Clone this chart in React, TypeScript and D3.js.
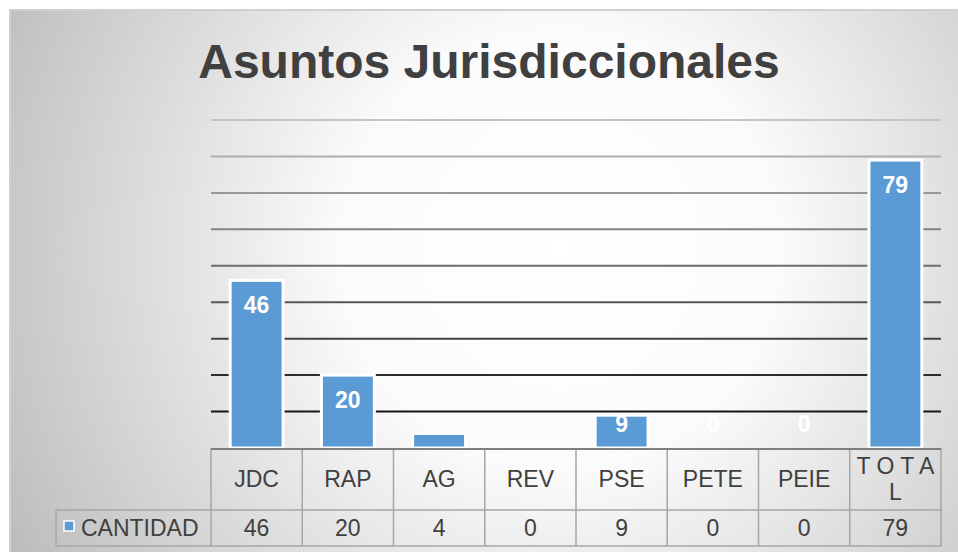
import React, { useEffect, useRef } from 'react';
import * as d3 from 'd3';

const title = 'Asuntos Jurisdiccionales';
const categories = ['JDC', 'RAP', 'AG', 'REV', 'PSE', 'PETE', 'PEIE', 'TOTAL'];
const headerLines = [['JDC'], ['RAP'], ['AG'], ['REV'], ['PSE'], ['PETE'], ['PEIE'], ['T O T A', 'L']];
const seriesName = 'CANTIDAD';
const cantidad = [46, 20, 4, 0, 9, 0, 0, 79];
// labels that show on the chart (AG and REV have none)
const showLabel = [true, true, false, false, true, true, true, true];
const yTicks = [10, 20, 30, 40, 50, 60, 70, 80, 90];

function App() {
  const svgRef = useRef<SVGSVGElement>(null);

  useEffect(() => {
    const svg = d3.select(svgRef.current);
    svg.selectAll('*').remove();

    const width = 958;
    const height = 552;
    const plot = { left: 211, right: 941, top: 120, bottom: 448 };
    const tableBottom = 546;
    const headerBottom = 510;
    const legendLeft = 56;
    const font = '"Liberation Sans", Arial, sans-serif';
    const textColor = '#404040';
    const blue = '#5b9bd5';

    svg.attr('width', width).attr('height', height);

    const defs = svg.append('defs');
    const grad = defs.append('radialGradient')
      .attr('id', 'bg')
      .attr('gradientUnits', 'userSpaceOnUse')
      .attr('cx', 560).attr('cy', 250).attr('r', 620);
    grad.append('stop').attr('offset', '0%').attr('stop-color', '#ffffff');
    grad.append('stop').attr('offset', '35%').attr('stop-color', '#fbfbfb');
    grad.append('stop').attr('offset', '100%').attr('stop-color', '#bdbdbd');

    svg.append('rect').attr('width', width).attr('height', height).attr('fill', '#fff');
    svg.append('rect')
      .attr('x', 10).attr('y', 10)
      .attr('width', width).attr('height', height)
      .attr('fill', 'url(#bg)')
      .attr('stroke', '#d0d0d0').attr('stroke-width', 2);

    svg.append('text')
      .attr('x', 489).attr('y', 78)
      .attr('text-anchor', 'middle')
      .attr('font-family', font).attr('font-weight', 'bold')
      .attr('font-size', 48).attr('fill', textColor)
      .text(title);

    const x = d3.scaleBand()
      .domain(categories)
      .range([plot.left, plot.right])
      .paddingInner(0.42)
      .paddingOuter(0.21);

    const y = d3.scaleLinear()
      .domain([0, 90])
      .range([plot.bottom, plot.top]);

    const lineColor = d3.scaleLinear<string>()
      .domain([0, 90])
      .range(['#000000', '#c4c4c4'])
      .interpolate(d3.interpolateRgb);

    svg.append('g')
      .selectAll('line')
      .data(yTicks)
      .enter()
      .append('line')
      .attr('x1', plot.left).attr('x2', plot.right)
      .attr('y1', (d) => y(d)).attr('y2', (d) => y(d))
      .attr('stroke', (d) => lineColor(d))
      .attr('stroke-width', 2);

    svg.append('g')
      .selectAll('rect')
      .data(cantidad)
      .enter()
      .append('rect')
      .attr('x', (d, i) => x(categories[i]))
      .attr('width', x.bandwidth())
      .attr('y', (d) => y(d))
      .attr('height', (d) => plot.bottom - y(d))
      .attr('fill', blue)
      .attr('stroke', (d) => (d > 0 ? '#ffffff' : 'none'))
      .attr('stroke-width', 3);

    svg.append('g')
      .selectAll('text')
      .data(cantidad.map((v, i) => ({ v, i })).filter((d) => showLabel[d.i]))
      .enter()
      .append('text')
      .attr('x', (d) => x(categories[d.i]) + x.bandwidth() / 2)
      .attr('y', (d) => Math.min(y(d.v) + 25, plot.bottom - 24) + 8)
      .attr('text-anchor', 'middle')
      .attr('font-family', font).attr('font-weight', 'bold')
      .attr('font-size', 23).attr('fill', '#ffffff')
      .text((d) => d.v);

    // data table
    const step = x.step();
    const table = svg.append('g')
      .attr('fill', 'none')
      .attr('stroke', '#a6a6a6')
      .attr('stroke-width', 1.5);

    table.append('line')
      .attr('x1', plot.left).attr('x2', plot.left)
      .attr('y1', plot.bottom).attr('y2', tableBottom);
    categories.forEach((c, i) => {
      const xr = plot.left + step * (i + 1);
      table.append('line')
        .attr('x1', xr).attr('x2', xr)
        .attr('y1', plot.bottom).attr('y2', tableBottom);
    });
    table.append('line')
      .attr('x1', legendLeft).attr('x2', plot.right)
      .attr('y1', headerBottom).attr('y2', headerBottom);
    table.append('line')
      .attr('x1', legendLeft).attr('x2', plot.right)
      .attr('y1', tableBottom).attr('y2', tableBottom);
    table.append('line')
      .attr('x1', legendLeft).attr('x2', legendLeft)
      .attr('y1', headerBottom).attr('y2', tableBottom);

    svg.append('line')
      .attr('x1', plot.left).attr('x2', plot.right)
      .attr('y1', plot.bottom + 1).attr('y2', plot.bottom + 1)
      .attr('stroke', '#7f7f7f').attr('stroke-width', 2);

    const header = svg.append('g')
      .attr('font-family', font).attr('font-size', 23)
      .attr('fill', textColor).attr('text-anchor', 'middle');
    headerLines.forEach((lines, i) => {
      const cx = x(categories[i]) + x.bandwidth() / 2;
      const y0 = lines.length === 1 ? 487 : 474;
      lines.forEach((ln, j) => {
        header.append('text')
          .attr('x', cx).attr('y', y0 + j * 26)
          .text(ln);
      });
    });

    const row = svg.append('g')
      .attr('font-family', font).attr('font-size', 23)
      .attr('fill', textColor).attr('text-anchor', 'middle');
    cantidad.forEach((v, i) => {
      row.append('text')
        .attr('x', x(categories[i]) + x.bandwidth() / 2)
        .attr('y', 536)
        .text(v);
    });

    svg.append('rect')
      .attr('x', 64).attr('y', 521)
      .attr('width', 10).attr('height', 10)
      .attr('fill', blue)
      .attr('stroke', '#ffffff').attr('stroke-width', 1.5);
    svg.append('text')
      .attr('x', 81).attr('y', 536)
      .attr('font-family', font).attr('font-size', 23)
      .attr('fill', textColor)
      .text(seriesName);
  }, []);

  return (
    <svg ref={svgRef} style={{ position: 'absolute', left: 0, top: 0 }}></svg>
  );
}

export default App;
